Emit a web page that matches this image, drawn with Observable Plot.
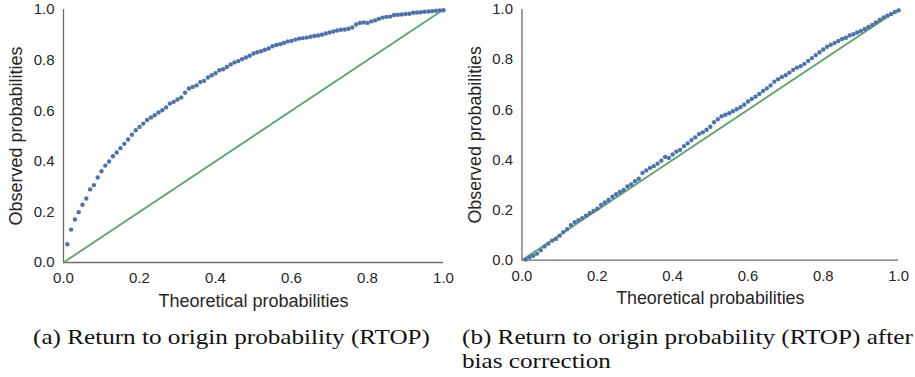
<!DOCTYPE html>
<html>
<head>
<meta charset="utf-8">
<script src="https://cdn.jsdelivr.net/npm/d3@7"></script>
<script src="https://cdn.jsdelivr.net/npm/@observablehq/plot@0.6"></script>
<style>
  html, body { margin: 0; padding: 0; background: #fff; width: 915px; height: 377px; overflow: hidden; position: relative; }
  .panel { position: absolute; top: 0; }
  .cap { position: absolute; font-family: "Liberation Serif", "Times New Roman", serif; font-size: 21px; line-height: 24px; color: #111; white-space: nowrap; transform-origin: 0 0; }
  g[aria-label="x-axis label"], g[aria-label="y-axis label"] { font-size: 18px; }
</style>
</head>
<body>
<div id="pa" class="panel" style="left:0px"></div>
<div id="pb" class="panel" style="left:459px"></div>
<div id="capa" class="cap" style="left:33px; top:325px;">(a) Return to origin probability (RTOP)</div>
<div id="capb" class="cap" style="left:462px; top:325px;">(b) Return to origin probability (RTOP) after<br>bias correction</div>
<script>
// Theoretical probabilities (x grid)
const theoretical = [0.01,0.02,0.03,0.04,0.05,0.06,0.07,0.08,0.09,0.10,
  0.11,0.12,0.13,0.14,0.15,0.16,0.17,0.18,0.19,0.20,
  0.21,0.22,0.23,0.24,0.25,0.26,0.27,0.28,0.29,0.30,
  0.31,0.32,0.33,0.34,0.35,0.36,0.37,0.38,0.39,0.40,
  0.41,0.42,0.43,0.44,0.45,0.46,0.47,0.48,0.49,0.50,
  0.51,0.52,0.53,0.54,0.55,0.56,0.57,0.58,0.59,0.60,
  0.61,0.62,0.63,0.64,0.65,0.66,0.67,0.68,0.69,0.70,
  0.71,0.72,0.73,0.74,0.75,0.76,0.77,0.78,0.79,0.80,
  0.81,0.82,0.83,0.84,0.85,0.86,0.87,0.88,0.89,0.90,
  0.91,0.92,0.93,0.94,0.95,0.96,0.97,0.98,0.99,1.00];

// (a) observed probabilities, RTOP
const observedA = [0.072,0.130,0.170,0.199,0.228,0.253,0.289,0.306,0.336,0.361,
  0.383,0.399,0.420,0.435,0.452,0.469,0.486,0.505,0.523,0.536,
  0.549,0.563,0.573,0.582,0.593,0.602,0.613,0.628,0.635,0.644,
  0.652,0.671,0.688,0.694,0.700,0.713,0.718,0.731,0.740,0.748,
  0.760,0.764,0.773,0.783,0.791,0.796,0.804,0.810,0.817,0.826,
  0.831,0.835,0.841,0.846,0.855,0.860,0.863,0.868,0.874,0.876,
  0.881,0.885,0.887,0.889,0.892,0.895,0.897,0.900,0.905,0.909,
  0.913,0.917,0.920,0.921,0.924,0.929,0.941,0.947,0.949,0.947,
  0.953,0.957,0.963,0.968,0.971,0.972,0.978,0.979,0.980,0.982,
  0.983,0.987,0.988,0.989,0.991,0.992,0.993,0.995,0.996,0.997];

// (b) observed probabilities, RTOP after bias correction
const observedB = [0.003,0.012,0.018,0.026,0.040,0.055,0.066,0.078,0.085,0.098,
  0.112,0.124,0.140,0.152,0.160,0.168,0.178,0.188,0.196,0.205,
  0.220,0.230,0.240,0.253,0.263,0.272,0.280,0.294,0.302,0.315,
  0.325,0.348,0.358,0.368,0.375,0.385,0.397,0.412,0.408,0.422,
  0.433,0.440,0.455,0.466,0.479,0.490,0.503,0.510,0.520,0.532,
  0.550,0.562,0.574,0.580,0.586,0.594,0.602,0.610,0.620,0.633,
  0.643,0.652,0.663,0.675,0.685,0.697,0.712,0.722,0.731,0.738,
  0.748,0.759,0.768,0.774,0.783,0.795,0.806,0.818,0.829,0.840,
  0.851,0.859,0.866,0.874,0.882,0.887,0.896,0.901,0.908,0.914,
  0.922,0.930,0.938,0.948,0.958,0.968,0.975,0.982,0.990,0.996];

// reference diagonal
const diagonal = [0, 1];
const tickValues = [0, 0.2, 0.4, 0.6, 0.8, 1.0];

function panel(observed) {
  const pts = theoretical.map((t, i) => ({t, o: observed[i]}));
  return Plot.plot({
    width: 460,
    height: 310,
    marginLeft: 63,
    marginRight: 17,
    marginTop: 9,
    marginBottom: 48,
    style: {fontFamily: "'Liberation Sans', Arial, sans-serif", fontSize: "15px", color: "#262626", background: "#fff", overflow: "visible"},
    x: {domain: [0, 1]},
    y: {domain: [0, 1]},
    marks: [
      Plot.axisX({ticks: tickValues, tickFormat: d3.format(".1f"), tickSize: 0, tickPadding: 10,
        label: "Theoretical probabilities", labelAnchor: "center", labelArrow: "none", labelOffset: 44}),
      Plot.axisY({ticks: tickValues, tickFormat: d3.format(".1f"), tickSize: 0, tickPadding: 9,
        label: "Observed probabilities", labelAnchor: "center", labelArrow: "none", labelOffset: 54}),
      Plot.ruleX([0], {stroke: "#6b6b6b", strokeWidth: 1.3}),
      Plot.ruleY([0], {stroke: "#6b6b6b", strokeWidth: 1.3}),
      Plot.line(diagonal, {x: d => d, y: d => d, stroke: "#55A868", strokeWidth: 1.8}),
      Plot.dot(pts, {x: "t", y: "o", r: 2.2, fill: "#4C72B0", stroke: null})
    ]
  });
}

document.getElementById("pa").append(panel(observedA));
document.getElementById("pb").append(panel(observedB));

// widen the serif captions to the span of the original (Computer Modern is wider)
const capA = document.getElementById("capa");
const s = 397 / capA.getBoundingClientRect().width;
for (const id of ["capa", "capb"]) document.getElementById(id).style.transform = `scaleX(${s})`;
</script>
</body>
</html>
